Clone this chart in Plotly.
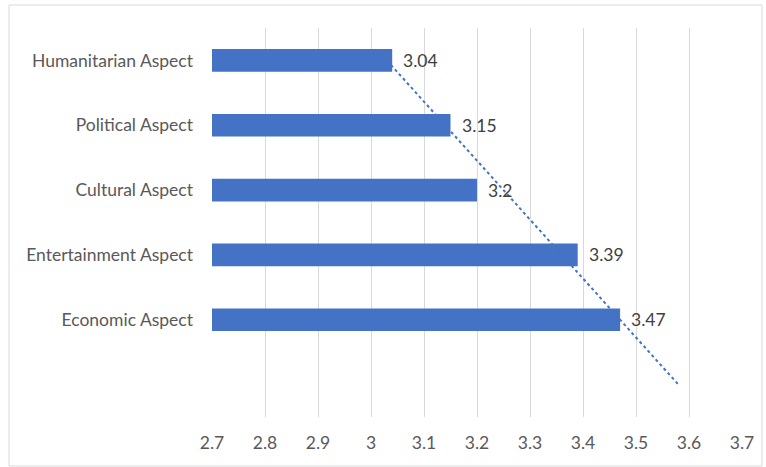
import numpy as np
import plotly.graph_objects as go

categories = ["Humanitarian Aspect", "Political Aspect", "Cultural Aspect",
              "Entertainment Aspect", "Economic Aspect"]
values = [3.04, 3.15, 3.2, 3.39, 3.47]
x_ticks = [2.7, 2.8, 2.9, 3.0, 3.1, 3.2, 3.3, 3.4, 3.5, 3.6, 3.7]
x_tick_labels = ["2.7", "2.8", "2.9", "3", "3.1", "3.2", "3.3", "3.4", "3.5", "3.6", "3.7"]
value_labels = ["3.04", "3.15", "3.2", "3.39", "3.47"]

pos = list(range(1, len(categories) + 1))
# linear trendline, forecast forward one period
coef = np.polyfit(pos, values, 1)
trend_pos = [1, len(categories) + 1]
trend_vals = [coef[0] * p + coef[1] for p in trend_pos]

W, H = 766, 467
ML, MR, MT, MB = 212, 24, 28, 50
pw, ph = W - ML - MR, H - MT - MB

FONT = "Lato"
FS = 17.5
TXT = "#595959"
BLUE = "#4472C4"

fig = go.Figure()
fig.add_trace(go.Bar(y=pos, x=values, orientation="h", width=0.35,
                     marker=dict(color=BLUE, line=dict(width=0)),
                     hoverinfo="skip", base=0))
fig.add_trace(go.Scatter(y=trend_pos, x=trend_vals, mode="lines",
                         line=dict(color=BLUE, width=2, dash="dot"),
                         hoverinfo="skip"))

for p, v, t in zip(pos, values, value_labels):
    fig.add_annotation(x=v, y=p, text=t, showarrow=False, xanchor="left",
                       xshift=9, font=dict(family=FONT, size=FS, color="#404040"))

# chart border
bx0, bx1, by0, by1 = 9, 762, 5, 466
fig.add_shape(type="rect", xref="paper", yref="paper",
              x0=(bx0 - ML) / pw, x1=(bx1 - ML) / pw,
              y0=(H - MB - by1) / ph, y1=(H - MB - by0) / ph,
              line=dict(color="#D9D9D9", width=1), layer="below")

fig.update_layout(
    width=W, height=H,
    margin=dict(l=ML, r=MR, t=MT, b=MB),
    plot_bgcolor="white", paper_bgcolor="white",
    showlegend=False,
    font=dict(family=FONT, size=FS, color=TXT),
    xaxis=dict(range=[2.7, 3.7], tickvals=x_ticks, ticktext=x_tick_labels,
               showgrid=True, gridcolor="#D9D9D9", gridwidth=1,
               zeroline=False, showline=False, ticks="",
               ticklabelstandoff=13, tickfont=dict(size=FS, color=TXT)),
    yaxis=dict(range=[len(categories) + 1.5, 0.5], tickvals=pos,
               ticktext=categories, showgrid=False, zeroline=False,
               showline=False, ticks="", ticklabelstandoff=18,
               tickfont=dict(size=FS, color=TXT)),
)

fig.write_html("out.html")
